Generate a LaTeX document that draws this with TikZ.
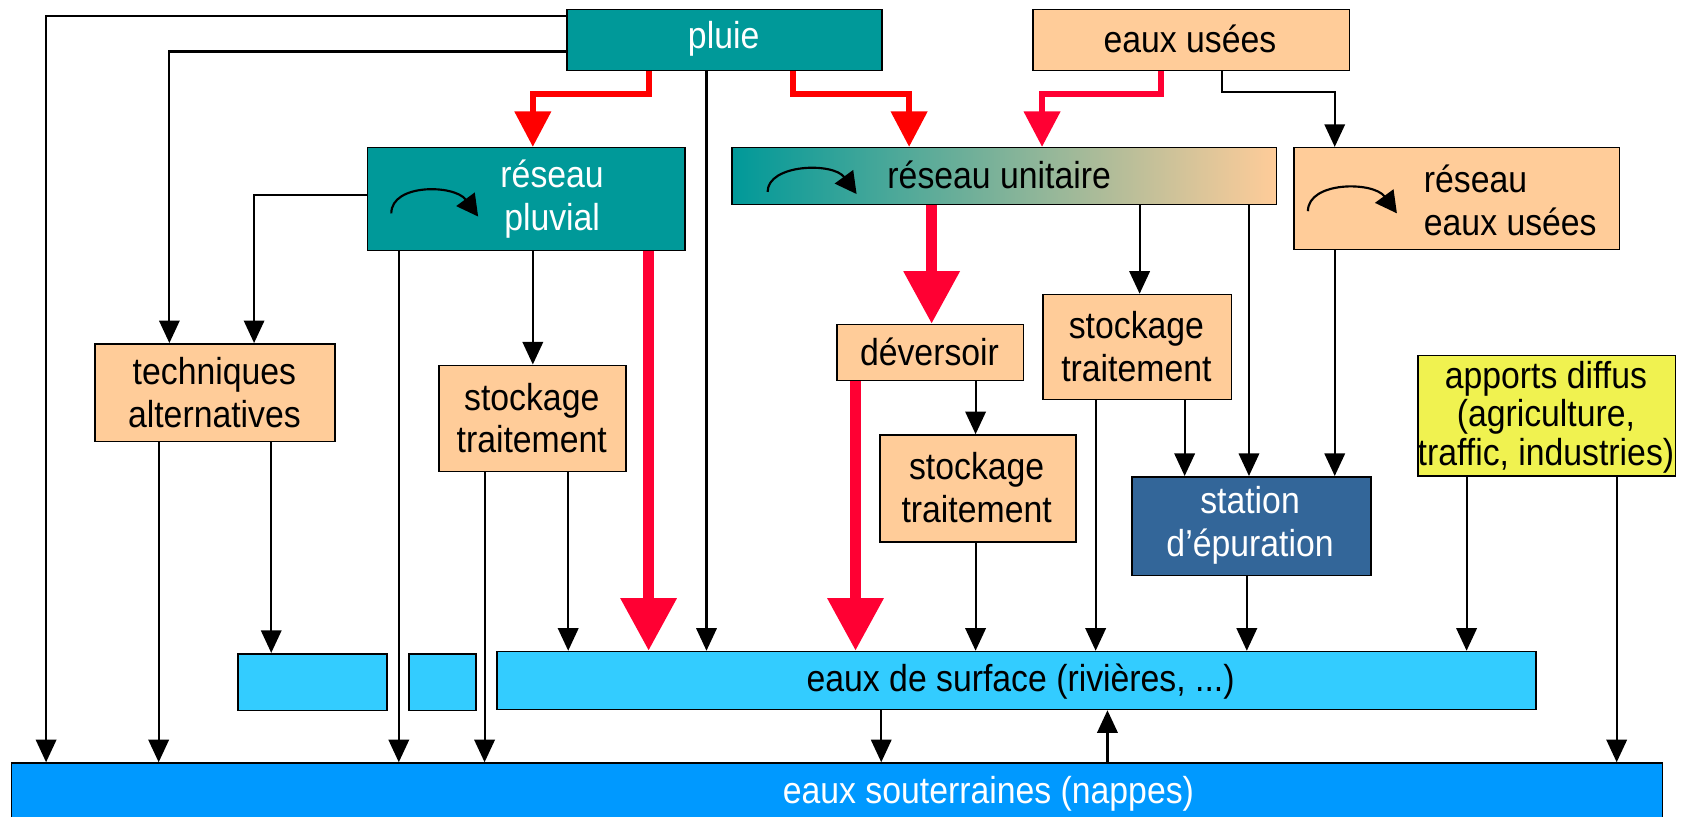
\documentclass[tikz,border=0pt]{standalone}
\usepackage{fontspec}
\setmainfont{Liberation Sans}[FakeStretch=0.9]
\usetikzlibrary{arrows.meta,calc}
\definecolor{tealc}{HTML}{009999}
\definecolor{peach}{HTML}{FFCC99}
\definecolor{stepc}{HTML}{336699}
\definecolor{yelc}{HTML}{F0F250}
\definecolor{surfc}{HTML}{33CCFF}
\definecolor{soutc}{HTML}{0099FF}
\definecolor{redA}{HTML}{FF0000}
\definecolor{redB}{HTML}{FF0033}
\tikzset{
  box/.style={draw=black, line width=1.5pt, inner sep=0pt, anchor=north west},
  lbl/.style={font=\fontsize{35}{40}\selectfont, align=center, inner sep=0pt},
  arr/.style={line width=2pt, -{Triangle[length=21pt,width=19pt]}},
  redsmall/.style={draw=redA, line width=5.5pt, -{Triangle[length=33pt,width=33pt]}},
  redbig/.style={draw=redB, line width=10pt, -{Triangle[length=49pt,width=50pt]}},
  circarr/.style={line width=2pt, -{Triangle[length=20pt,width=21pt]}}
}
\begin{document}
\begin{tikzpicture}[x=1pt,y=1pt]
\useasboundingbox (0,0) rectangle (1568,-762);
% boxes
\node[box, fill=tealc, minimum width=294pt, minimum height=57pt] (pluie) at (528,-8) {};
\node[box, fill=peach, minimum width=295pt, minimum height=57pt] (usees) at (963,-8) {};
\node[box, fill=tealc, minimum width=296pt, minimum height=96pt] (rpluv) at (342,-137) {};
\node[box, left color=tealc, right color=peach, minimum width=508pt, minimum height=53pt] (runit) at (682,-137) {};
\node[box, fill=peach, minimum width=304pt, minimum height=95pt] (reu) at (1206,-137) {};
\node[box, fill=peach, minimum width=224pt, minimum height=91pt] (tech) at (88,-320) {};
\node[box, fill=peach, minimum width=174pt, minimum height=99pt] (st1) at (409,-340) {};
\node[box, fill=peach, minimum width=174pt, minimum height=52pt] (dev) at (780,-302) {};
\node[box, fill=peach, minimum width=176pt, minimum height=98pt] (st2) at (972,-274) {};
\node[box, fill=peach, minimum width=183pt, minimum height=100pt] (st3) at (820,-405) {};
\node[box, fill=stepc, minimum width=223pt, minimum height=92pt] (step) at (1055,-444) {};
\node[box, fill=yelc, minimum width=240pt, minimum height=112pt] (app) at (1322,-331) {};
\node[box, fill=surfc, minimum width=139pt, minimum height=53pt] (sb1) at (221,-609) {};
\node[box, fill=surfc, minimum width=62pt, minimum height=53pt] (sb2) at (381,-609) {};
\node[box, fill=surfc, minimum width=969pt, minimum height=54pt] (surf) at (463,-607) {};
\node[box, fill=soutc, minimum width=1540pt, minimum height=80pt] (sout) at (10,-711) {};
% labels
\node[lbl, text=white] (tpluie) at (675,-36) {pluie};
\node[lbl] (tusees) at (1110,-36) {eaux usées};
\node[lbl, text=white] (trpluv) at (515,-186) {réseau\\pluvial};
\node[lbl] (trunit) at (932,-163) {réseau unitaire};
\node[lbl, align=left, anchor=west] (treu) at (1328,-187) {réseau\\eaux usées};
\node[lbl] (ttech) at (200,-366) {techniques\\alternatives};
\node[lbl] (tst1) at (496,-390) {stockage\\traitement};
\node[lbl] (tdev) at (867,-328) {déversoir};
\node[lbl] (tst2) at (1060,-323) {stockage\\traitement};
\node[lbl] (tst3) at (911,-455) {stockage\\traitement};
\node[lbl, text=white] (tstep) at (1166,-490) {station\\d’épuration};
\node[lbl, font=\fontsize{35}{36}\selectfont] (tapp) at (1442,-389) {apports diffus\\(agriculture,\\traffic, industries)};
\node[lbl] (tsurf) at (952,-636) {eaux de surface (rivières, ...)};
\node[lbl, text=white] (tsout) at (922,-740) {eaux souterraines (nappes)};
% circular arrows
\draw[circarr] ($(rpluv.north west)+(23,-62)$) .. controls +(0,28) and +(-22,30) .. ($(rpluv.north west)+(104,-65)$);
\draw[circarr] ($(runit.north west)+(34,-42)$) .. controls +(0,26) and +(-22,30) .. ($(runit.north west)+(117,-44)$);
\draw[circarr] ($(reu.north west)+(14,-60)$) .. controls +(0,28) and +(-22,30) .. ($(reu.north west)+(97,-62)$);
% black connectors
\draw[arr] ([yshift=-7pt]pluie.north west) -| ([xshift=33pt]sout.north west);
\draw[arr] ([yshift=-40pt]pluie.north west) -| ([xshift=70pt]tech.north west);
\draw[arr] ([xshift=131pt]pluie.south west) -- ([xshift=196pt]surf.north west);
\draw[arr] ([xshift=177pt]usees.south west) -- ++(0,-19) -| ([xshift=39pt]reu.north west);
\draw[arr] ([yshift=-45pt]rpluv.north west) -| ([xshift=149pt]tech.north west);
\draw[arr] ([xshift=30pt]rpluv.south west) -- ([xshift=362pt]sout.north west);
\draw[arr] ([xshift=155pt]rpluv.south west) -- ([xshift=88pt]st1.north west);
\draw[arr] ([xshift=381pt]runit.south west) -- ([xshift=91pt]st2.north west);
\draw[arr] ([xshift=483pt]runit.south west) -- ([xshift=110pt]step.north west);
\draw[arr] ([xshift=39pt]reu.south west) -- ([xshift=190pt]step.north west);
\draw[arr] ([xshift=60pt]tech.south west) -- ([xshift=138pt]sout.north west);
\draw[arr] ([xshift=165pt]tech.south west) -- ([xshift=32pt]sb1.north west);
\draw[arr] ([xshift=43pt]st1.south west) -- ([xshift=442pt]sout.north west);
\draw[arr] ([xshift=121pt]st1.south west) -- ([xshift=67pt]surf.north west);
\draw[arr] ([xshift=130pt]dev.south west) -- ([xshift=90pt]st3.north west);
\draw[arr] ([xshift=90pt]st3.south west) -- ([xshift=447pt]surf.north west);
\draw[arr] ([xshift=50pt]st2.south west) -- ([xshift=559pt]surf.north west);
\draw[arr] ([xshift=133pt]st2.south west) -- ([xshift=50pt]step.north west);
\draw[arr] ([xshift=108pt]step.south west) -- ([xshift=700pt]surf.north west);
\draw[arr] ([xshift=46pt]app.south west) -- ([xshift=905pt]surf.north west);
\draw[arr] ([xshift=186pt]app.south west) -- ([xshift=1498pt]sout.north west);
\draw[arr] ([xshift=359pt]surf.south west) -- ([xshift=812pt]sout.north west);
\draw[arr] ([xshift=1023pt]sout.north west) -- ([xshift=570pt]surf.south west);
% red connectors
\draw[redsmall] ([xshift=77pt]pluie.south west) -- ++(0,-21) -| ([xshift=155pt]rpluv.north west);
\draw[redsmall] ([xshift=212pt]pluie.south west) -- ++(0,-21) -| ([xshift=166pt]runit.north west);
\draw[redsmall, draw=redB] ([xshift=120pt]usees.south west) -- ++(0,-21) -| ([xshift=290pt]runit.north west);
\draw[redbig] ([xshift=263pt]rpluv.south west) -- ([xshift=142pt]surf.north west);
\draw[redbig] ([xshift=187pt]runit.south west) -- ([xshift=89pt]dev.north west);
\draw[redbig] ([xshift=18pt]dev.south west) -- ([xshift=335pt]surf.north west);
\end{tikzpicture}
\end{document}
